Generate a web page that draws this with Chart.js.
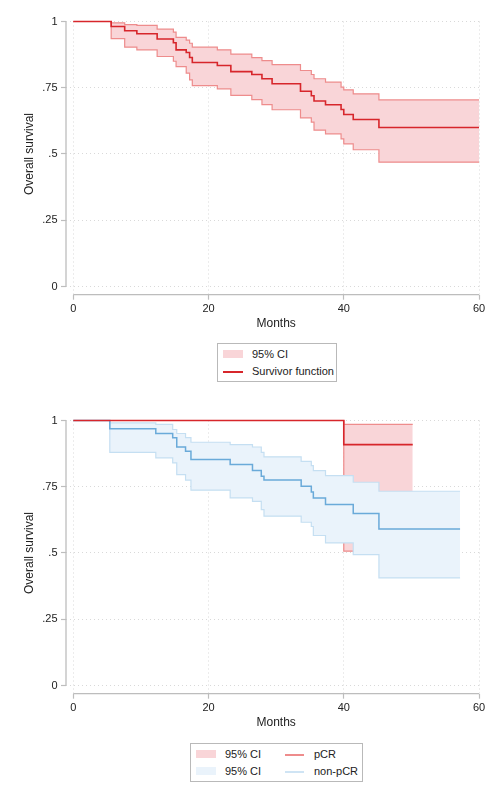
<!DOCTYPE html>
<html>
<head>
<meta charset="utf-8">
<script src="https://cdn.jsdelivr.net/npm/chart.js@4.4.1/dist/chart.umd.min.js"></script>
<style>
  body { margin: 0; background: #fff; font-family: "Liberation Sans", Arial, sans-serif; }
  .panel { position: absolute; left: 0; width: 501px; height: 400px; }
  .legend { position: absolute; border: 1px solid #b9b9b9; background: #fff; font-size: 11px; color: #222; }
  .legend span { position: absolute; white-space: nowrap; line-height: 12px; }
  .legend i { position: absolute; display: block; }
</style>
</head>
<body>
<canvas id="allChart" class="panel" width="501" height="400" style="top:0"></canvas>
<canvas id="groupChart" class="panel" width="501" height="400" style="top:399px"></canvas>

<div class="legend" style="left:217px; top:343px; width:118px; height:37px;">
  <i style="left:5px; top:6px; width:20px; height:8px; background:#f9d5d8;"></i>
  <span style="left:34px; top:4px;">95% CI</span>
  <i style="left:5px; top:27px; width:20px; height:1.5px; background:#d7262b;"></i>
  <span style="left:34px; top:21px;">Survivor function</span>
</div>

<div class="legend" style="left:190px; top:743px; width:171px; height:37px;">
  <i style="left:5px; top:6px; width:20px; height:8px; background:#f9d5d8;"></i>
  <span style="left:34px; top:4px;">95% CI</span>
  <i style="left:5px; top:23px; width:20px; height:8px; background:#eaf3fb;"></i>
  <span style="left:34px; top:21px;">95% CI</span>
  <i style="left:94px; top:10px; width:19px; height:1.5px; background:#ee8c8c;"></i>
  <span style="left:123px; top:4px;">pCR</span>
  <i style="left:94px; top:27px; width:19px; height:1.5px; background:#cfe4f4;"></i>
  <span style="left:123px; top:21px;">non-pCR</span>
</div>

<script>
// axis ticks
const xTicks = [0, 20, 40, 60];
const yTicks = [0, 0.25, 0.5, 0.75, 1];
const yTickLabels = ['0', '.25', '.5', '.75', '1'];
const xTitle = 'Months';
const yTitle = 'Overall survival';

// all patients (Kaplan-Meier steps)
const allMonths = [0, 5.6, 7.6, 9.4, 12.4, 14.8, 15.2, 16.7, 17.2, 17.6, 21.3, 23.3, 26.4, 27.9, 29.4, 33.6, 35.2, 35.6, 37.3, 39.6, 40.0, 41.4, 45.2, 60];
const allSurv  = [1, 0.981, 0.965, 0.954, 0.934, 0.92, 0.893, 0.883, 0.864, 0.845, 0.834, 0.811, 0.80, 0.784, 0.765, 0.737, 0.72, 0.70, 0.686, 0.668, 0.649, 0.63, 0.60, 0.60];
const allUpper = [1, 0.995, 0.988, 0.985, 0.971, 0.96, 0.94, 0.93, 0.918, 0.903, 0.893, 0.877, 0.864, 0.852, 0.837, 0.815, 0.80, 0.784, 0.771, 0.752, 0.742, 0.727, 0.704, 0.704];
const allLower = [1, 0.935, 0.903, 0.893, 0.868, 0.85, 0.83, 0.805, 0.78, 0.758, 0.746, 0.721, 0.705, 0.686, 0.667, 0.636, 0.62, 0.59, 0.576, 0.557, 0.538, 0.516, 0.469, 0.469];

// pCR group
const pcrMonths = [0, 40, 50.2];
const pcrSurv  = [1, 0.909, 0.909];
const pcrUpper = [1, 0.985, 0.985];
const pcrLower = [1, 0.507, 0.507];

// non-pCR group
const nonMonths = [0, 5.4, 12.2, 14.7, 15.3, 16.6, 17.4, 23.2, 26.5, 27.8, 28.2, 33.7, 35.2, 35.5, 37.3, 41.4, 45.2, 57.2];
const nonSurv  = [1, 0.969, 0.951, 0.935, 0.90, 0.884, 0.853, 0.834, 0.811, 0.79, 0.775, 0.752, 0.73, 0.708, 0.683, 0.649, 0.591, 0.591];
const nonUpper = [1, 0.991, 0.985, 0.966, 0.951, 0.935, 0.918, 0.909, 0.90, 0.88, 0.863, 0.846, 0.83, 0.811, 0.792, 0.767, 0.733, 0.733];
const nonLower = [1, 0.88, 0.859, 0.84, 0.796, 0.775, 0.737, 0.708, 0.695, 0.664, 0.639, 0.616, 0.60, 0.566, 0.538, 0.494, 0.406, 0.406];

const textColor = '#222';
const axisColor = '#bdbdbd';
const gridColor = '#d9d9d9';
const redLine = '#d7262b', redEdge = '#ee8c8c', redFill = '#f9d5d8';
const blueLine = '#6aaad9', blueEdge = '#c5dff2', blueFill = '#eaf3fb';

const pts = (xs, ys) => xs.map((x, i) => ({ x: x, y: ys[i] }));

function step(data, color, width, fill, bg) {
  return {
    data: data, borderColor: color, borderWidth: width, pointRadius: 0,
    stepped: true, fill: fill || false, backgroundColor: bg || 'transparent', clip: false
  };
}

// stata style axes: offset axis lines and axis titles
const stataAxes = {
  id: 'stataAxes',
  afterDraw(chart) {
    const { ctx, chartArea } = chart;
    const x = chart.scales.x, y = chart.scales.y;
    ctx.save();
    ctx.strokeStyle = axisColor;
    ctx.lineWidth = 1.3;
    ctx.beginPath();
    ctx.moveTo(chartArea.left, y.getPixelForValue(0));
    ctx.lineTo(chartArea.left, y.getPixelForValue(1));
    ctx.moveTo(x.getPixelForValue(0), chartArea.bottom);
    ctx.lineTo(x.getPixelForValue(60), chartArea.bottom);
    ctx.stroke();
    ctx.fillStyle = textColor;
    ctx.font = '12px "Liberation Sans", Arial, sans-serif';
    ctx.textAlign = 'center';
    ctx.textBaseline = 'middle';
    ctx.fillText(xTitle, x.getPixelForValue(30), 324);
    ctx.translate(30, y.getPixelForValue(0.5));
    ctx.rotate(-Math.PI / 2);
    ctx.fillText(yTitle, 0, 0);
    ctx.restore();
  }
};

function makeOptions() {
  const tickFont = { family: '"Liberation Sans", Arial, sans-serif', size: 11 };
  return {
    responsive: false,
    animation: false,
    events: [],
    layout: { padding: { top: 21.5, right: 22, left: 0, bottom: 0 } },
    plugins: { legend: { display: false }, tooltip: { enabled: false } },
    scales: {
      x: {
        type: 'linear', min: -1.08, max: 60,
        afterBuildTicks: s => { s.ticks = xTicks.map(v => ({ value: v })); },
        afterFit: s => { s.height = 105.3; },
        grid: { color: gridColor, lineWidth: 1, drawTicks: true, tickLength: 5, tickColor: axisColor, tickWidth: 1.2 },
        border: { display: false, dash: [1, 3] },
        ticks: { font: tickFont, color: textColor, padding: 3, maxRotation: 0 }
      },
      y: {
        type: 'linear', min: -0.031, max: 1,
        afterBuildTicks: s => { s.ticks = yTicks.map(v => ({ value: v })); },
        afterFit: s => { s.width = 66; },
        grid: { color: gridColor, lineWidth: 1, drawTicks: true, tickLength: 5, tickColor: axisColor, tickWidth: 1.2 },
        border: { display: false, dash: [1, 3] },
        ticks: { font: tickFont, color: textColor, padding: 3.5, callback: v => yTickLabels[yTicks.indexOf(v)] }
      }
    }
  };
}

new Chart(document.getElementById('allChart'), {
  type: 'line',
  data: {
    datasets: [
      step(pts(allMonths, allSurv), redLine, 1.6),
      step(pts(allMonths, allUpper), redEdge, 1.2),
      step(pts(allMonths, allLower), redEdge, 1.2, '-1', redFill)
    ]
  },
  options: makeOptions(),
  plugins: [stataAxes]
});

new Chart(document.getElementById('groupChart'), {
  type: 'line',
  data: {
    datasets: [
      step(pts(pcrMonths, pcrSurv), redLine, 1.6),
      step(pts(nonMonths, nonSurv), blueLine, 1.5),
      step(pts(nonMonths, nonUpper), blueEdge, 1.2),
      step(pts(nonMonths, nonLower), blueEdge, 1.2, '-1', blueFill),
      step(pts(pcrMonths, pcrUpper), redEdge, 1.2),
      step(pts(pcrMonths, pcrLower), redEdge, 1.2, '-1', redFill)
    ]
  },
  options: makeOptions(),
  plugins: [stataAxes]
});
</script>
</body>
</html>
